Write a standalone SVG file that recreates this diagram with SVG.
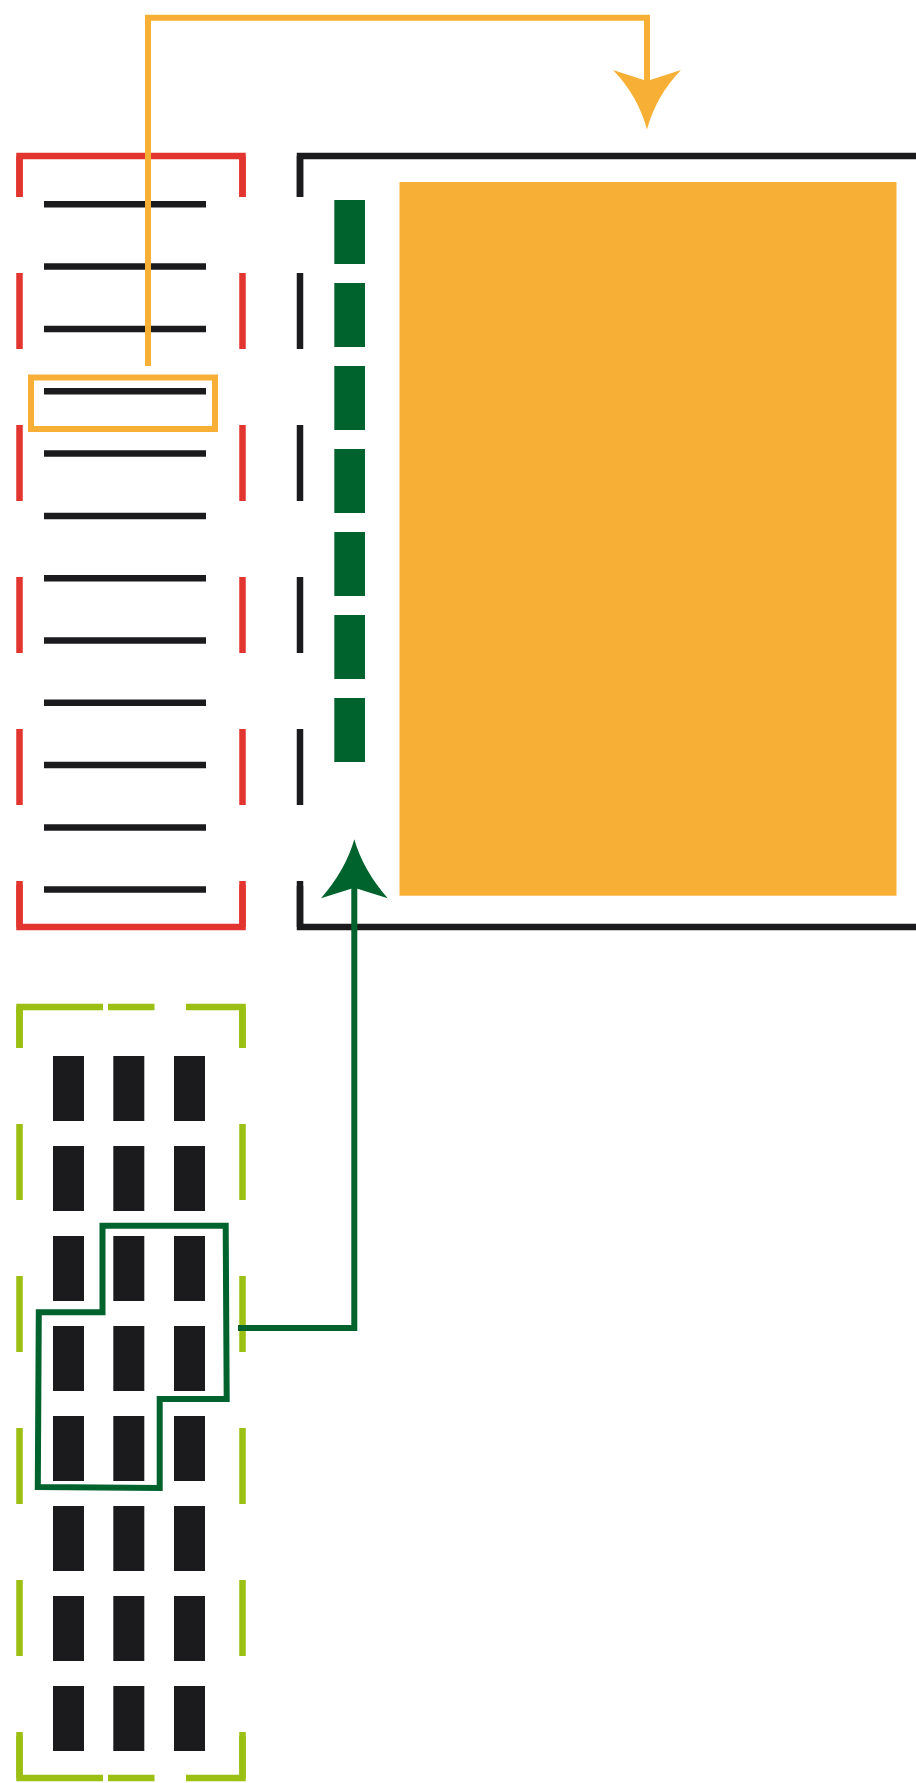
<svg xmlns="http://www.w3.org/2000/svg" width="916" height="1783" viewBox="0 0 916 1783">
<style>
.red{stroke:#E3352F;stroke-width:6.5;fill:none}
.blk{stroke:#1B1A1C;stroke-width:6.5;fill:none}
.lime{stroke:#9BBF12;stroke-width:6.5;fill:none}
.dash{stroke-dasharray:76 76;stroke-dashoffset:35}
.row{stroke:#1B1A1C;stroke-width:6.5}
.gbar{fill:#00632E}
.cell{fill:#1B1A1C}
.org{stroke:#F7B035;stroke-width:6;fill:none}
.grn{stroke:#00632E;stroke-width:6;fill:none}
</style>
<rect width="916" height="1783" fill="#ffffff"/>

<g id="red-panel">
  <path class="red" d="M19.5,197 V156 H242.5 V197"/>
  <path class="red" d="M19.5,885 V927 H242.5 V885"/>
  <line class="red dash" x1="19.5" y1="156" x2="19.5" y2="927"/>
  <line class="red dash" x1="242.5" y1="156" x2="242.5" y2="927"/>
  <g class="row">
    <line x1="44" y1="204.3" x2="206" y2="204.3"/>
    <line x1="44" y1="266.6" x2="206" y2="266.6"/>
    <line x1="44" y1="329" x2="206" y2="329"/>
    <line x1="44" y1="391.3" x2="206" y2="391.3"/>
    <line x1="44" y1="453.6" x2="206" y2="453.6"/>
    <line x1="44" y1="515.9" x2="206" y2="515.9"/>
    <line x1="44" y1="578.2" x2="206" y2="578.2"/>
    <line x1="44" y1="640.5" x2="206" y2="640.5"/>
    <line x1="44" y1="702.8" x2="206" y2="702.8"/>
    <line x1="44" y1="765.1" x2="206" y2="765.1"/>
    <line x1="44" y1="827.4" x2="206" y2="827.4"/>
    <line x1="44" y1="889.5" x2="206" y2="889.5"/>
  </g>
</g>

<g id="selected-row">
  <rect class="org" x="31" y="377.5" width="184" height="51.5" stroke-width="6.5"/>
</g>

<g id="black-panel">
  <path class="blk" d="M300,197 V156 H916"/>
  <path class="blk" d="M300,886 V927 H916"/>
  <line class="blk dash" x1="300" y1="156" x2="300" y2="927"/>
</g>

<g id="green-dashes">
  <rect class="gbar" x="334.3" y="200" width="30.7" height="64"/>
  <rect class="gbar" x="334.3" y="283" width="30.7" height="64"/>
  <rect class="gbar" x="334.3" y="366" width="30.7" height="64"/>
  <rect class="gbar" x="334.3" y="449" width="30.7" height="64"/>
  <rect class="gbar" x="334.3" y="532" width="30.7" height="64"/>
  <rect class="gbar" x="334.3" y="615" width="30.7" height="64"/>
  <rect class="gbar" x="334.3" y="698" width="30.7" height="64"/>
</g>

<g id="orange-block">
  <rect x="399.5" y="182" width="497" height="713.7" fill="#F7B035"/>
</g>

<g id="lime-panel">
  <path class="lime" d="M19.5,1048 V1007 H103"/>
  <line class="lime" x1="108" y1="1007" x2="154.5" y2="1007"/>
  <path class="lime" d="M186,1007 H242.5 V1048"/>
  <path class="lime" d="M19.5,1736 V1778 H103"/>
  <line class="lime" x1="108" y1="1778" x2="154.5" y2="1778"/>
  <path class="lime" d="M186,1778 H242.5 V1736"/>
  <line class="lime dash" x1="19.5" y1="1007" x2="19.5" y2="1778"/>
  <line class="lime dash" x1="242.5" y1="1007" x2="242.5" y2="1778"/>
  <g class="cell">
    <rect x="53" y="1056" width="31" height="65"/><rect x="113.3" y="1056" width="31" height="65"/><rect x="174" y="1056" width="31" height="65"/>
    <rect x="53" y="1146" width="31" height="65"/><rect x="113.3" y="1146" width="31" height="65"/><rect x="174" y="1146" width="31" height="65"/>
    <rect x="53" y="1236" width="31" height="65"/><rect x="113.3" y="1236" width="31" height="65"/><rect x="174" y="1236" width="31" height="65"/>
    <rect x="53" y="1326" width="31" height="65"/><rect x="113.3" y="1326" width="31" height="65"/><rect x="174" y="1326" width="31" height="65"/>
    <rect x="53" y="1416" width="31" height="65"/><rect x="113.3" y="1416" width="31" height="65"/><rect x="174" y="1416" width="31" height="65"/>
    <rect x="53" y="1506" width="31" height="65"/><rect x="113.3" y="1506" width="31" height="65"/><rect x="174" y="1506" width="31" height="65"/>
    <rect x="53" y="1596" width="31" height="65"/><rect x="113.3" y="1596" width="31" height="65"/><rect x="174" y="1596" width="31" height="65"/>
    <rect x="53" y="1686" width="31" height="65"/><rect x="113.3" y="1686" width="31" height="65"/><rect x="174" y="1686" width="31" height="65"/>
  </g>
</g>

<g id="selected-cells">
  <path class="grn" d="M102.5,1225.7 H225.7 L226.7,1399 H159.7 V1488 L37.8,1487 L38.8,1312.3 H102.5 Z"/>
</g>

<g id="connectors">
  <path class="org" d="M148,366 V17.8 H647 V82"/>
  <path fill="#F7B035" d="M613,70 L647,81 L681,70 Q656,96 647,129.5 Q638,96 613,70 Z"/>
  <path class="grn" d="M238,1328 H354.3 V886"/>
  <path fill="#00632E" d="M321,898.3 L354.3,887.7 L387.7,898.3 Q363,870 354.3,839.3 Q345.6,870 321,898.3 Z"/>
</g>
</svg>
